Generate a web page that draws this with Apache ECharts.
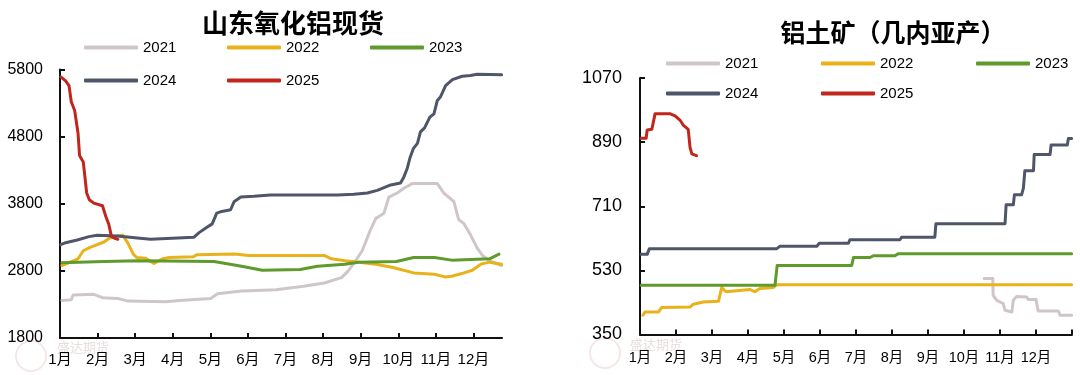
<!DOCTYPE html>
<html><head><meta charset="utf-8">
<script src="https://cdn.jsdelivr.net/npm/echarts@6/dist/echarts.min.js"></script>
<style>html,body{margin:0;padding:0;background:#fff}#c{width:1080px;height:375px}</style>
</head><body><div id="c"></div>
<script>
// ---------- data ----------
const years = ['2021', '2022', '2023', '2024', '2025'];
const yearColors = ['#D0C6CA', '#E9B11A', '#5F9B2C', '#4F5669', '#C1261D'];
const monthLabels = ['1月','2月','3月','4月','5月','6月','7月','8月','9月','10月','11月','12月'];
const leftTitle = '山东氧化铝现货';
const rightTitle = '铝土矿（几内亚产）';
const leftYTicks = [1800, 2800, 3800, 4800, 5800];
const rightYTicks = [350, 530, 710, 890, 1070];

// x = position in months from 1 Jan (0 = 1月, 1 = 2月, ...)
// Left: Shandong alumina spot
const aluX2021 = [0.05,0.30,0.35,0.90,1.13,1.53,1.81,2.82,3.18,4.01,4.19,4.83,5.75,6.48,7.03,7.49,7.67,7.86,8.04,8.26,8.40,8.62,8.75,8.97,9.15,9.37,10.04,10.21,10.48,10.61,10.74,10.92,11.10,11.24,11.43,11.75];
const aluY2021 = [2360,2370,2440,2450,2400,2390,2350,2340,2360,2390,2460,2500,2520,2570,2620,2700,2800,2950,3100,3410,3580,3660,3900,3960,4030,4100,4100,3960,3830,3560,3510,3340,3140,3030,2950,2880];
const aluX2022 = [0.05,0.48,0.62,0.80,1.17,1.35,1.67,1.81,1.95,2.04,2.27,2.50,2.73,2.91,3.55,3.64,4.65,5.02,7.03,7.22,7.58,7.95,8.40,8.86,9.41,9.96,10.24,10.42,10.69,10.97,11.20,11.43,11.75];
const aluY2022 = [2880,2980,3100,3150,3230,3300,3330,3210,3050,3000,2990,2910,2980,3000,3010,3040,3050,3030,3030,2980,2950,2930,2900,2850,2770,2750,2710,2720,2760,2810,2900,2930,2900];
const aluX2023 = [0.05,1.17,2.09,4.10,4.83,5.38,6.39,6.85,7.58,7.94,8.95,9.41,9.96,10.42,11.43,11.68];
const aluY2023 = [2920,2940,2950,2940,2870,2810,2820,2870,2900,2930,2940,3000,3000,2960,2980,3050];
const aluX2024 = [0.02,0.15,0.46,0.77,0.99,1.53,2.06,2.41,3.56,3.70,3.88,4.05,4.17,4.27,4.54,4.63,4.81,5.16,5.60,7.38,7.82,8.18,8.44,8.80,9.06,9.15,9.24,9.31,9.40,9.51,9.59,9.70,9.84,9.95,10.04,10.12,10.26,10.44,10.70,10.92,11.10,11.75];
const aluY2024 = [3190,3220,3260,3310,3330,3320,3290,3270,3300,3370,3440,3500,3660,3680,3710,3830,3900,3910,3930,3930,3940,3960,4000,4080,4110,4200,4330,4480,4620,4700,4870,4930,5090,5140,5340,5390,5560,5650,5700,5710,5730,5720];
const aluX2025 = [0.02,0.15,0.24,0.30,0.39,0.48,0.52,0.62,0.71,0.78,0.90,1.13,1.22,1.30,1.37,1.44,1.54];
const aluY2025 = [5690,5630,5560,5320,5190,4850,4520,4420,3960,3860,3810,3770,3610,3490,3310,3290,3270];

// Right: bauxite (Guinea)
const bxX2021 = [9.56,9.80,9.81,9.91,10.09,10.14,10.33,10.37,10.46,10.74,10.79,11.00,11.06,11.62,11.67,11.99];
const bxY2021 = [507,507,460,446,437,418,413,446,457,455,448,448,416,416,404,404];
const bxX2022 = [0.08,0.14,0.51,0.60,1.39,1.48,1.76,2.18,2.27,2.39,3.06,3.19,3.33,3.70,3.80,11.99];
const bxY2022 = [404,413,413,426,427,435,441,443,482,470,476,470,479,482,490,490];
const bxX2023 = [0.03,3.75,3.81,5.88,5.93,6.39,6.48,7.08,7.18,11.99];
const bxY2023 = [488,488,544,544,566,566,571,571,577,577];
const bxX2024 = [0.03,0.20,0.26,3.80,3.89,4.91,4.98,5.79,5.83,7.22,7.27,8.19,8.22,10.14,10.17,10.37,10.40,10.60,10.65,10.69,10.93,10.95,11.39,11.42,11.87,11.90,11.99];
const bxY2024 = [575,575,591,591,598,598,606,606,616,616,623,623,661,661,714,714,742,742,761,810,810,855,855,882,882,900,900];
const bxX2025 = [0.03,0.17,0.20,0.33,0.42,0.83,0.97,1.11,1.20,1.34,1.39,1.44,1.57];
const bxY2025 = [901,901,924,926,970,970,964,952,938,926,875,857,852];

// ---------- chart ----------
const FONT = "'Liberation Sans', Arial, 'Noto Sans CJK SC', sans-serif";
const CJK = "'Noto Sans CJK SC', sans-serif";
const zip = (xs, ys) => xs.map((x, i) => [x, ys[i]]);
const leftSets = [[aluX2021, aluY2021], [aluX2022, aluY2022], [aluX2023, aluY2023], [aluX2024, aluY2024], [aluX2025, aluY2025]];
const rightSets = [[bxX2021, bxY2021], [bxX2022, bxY2022], [bxX2023, bxY2023], [bxX2024, bxY2024], [bxX2025, bxY2025]];

const series = [];
[leftSets, rightSets].forEach((sets, gi) => {
  sets.forEach((s, i) => {
    series.push({
      name: years[i], type: 'line', xAxisIndex: gi, yAxisIndex: gi,
      data: zip(s[0], s[1]), symbol: 'none', showSymbol: false,
      lineStyle: { width: 3, color: yearColors[i], cap: 'round', join: 'round' },
      itemStyle: { color: yearColors[i] }, z: 2 + i, animation: false
    });
  });
});

function legendAt(name, x, yc) {
  return {
    data: [{ name: name, icon: 'roundRect' }], left: x, top: yc - 7, padding: 0,
    itemWidth: 54, itemHeight: 4,
    selectedMode: false,
    textStyle: { fontSize: 15, color: '#000', fontFamily: FONT, lineHeight: 14 }
  };
}
const legends = [
  legendAt('2021', 84, 47), legendAt('2022', 227, 47), legendAt('2023', 370, 47),
  legendAt('2024', 84, 80), legendAt('2025', 227, 80),
  legendAt('2021', 666, 63), legendAt('2022', 821, 63), legendAt('2023', 976, 63),
  legendAt('2024', 666, 93), legendAt('2025', 821, 93)
];

const axisLineStyle = { color: '#111', width: 2 };
const monthIdx = monthLabels.map((m, i) => i);
function xAxisCfg(gi, max, tickVals, fs, margin) {
  return {
    gridIndex: gi, type: 'value', min: 0, max: max, interval: 1,
    axisLine: { show: true, onZero: false, lineStyle: axisLineStyle },
    axisTick: { show: true, inside: true, length: 5, customValues: tickVals, lineStyle: axisLineStyle },
    axisLabel: { customValues: monthIdx, formatter: v => monthLabels[Math.round(v)] || '',
      fontSize: fs, color: '#000', fontFamily: FONT, margin: margin },
    splitLine: { show: false }
  };
}
function yAxisCfg(gi, ticks, fs, margin) {
  return {
    gridIndex: gi, type: 'value', min: ticks[0], max: ticks[ticks.length - 1],
    interval: ticks[1] - ticks[0],
    axisLine: { show: true, onZero: false, lineStyle: axisLineStyle },
    axisTick: { show: true, inside: true, length: 5, customValues: ticks, lineStyle: axisLineStyle },
    axisLabel: { customValues: ticks, formatter: v => String(v), fontSize: fs, color: '#000', fontFamily: FONT, margin: margin },
    splitLine: { show: false }
  };
}

function watermark(cx, cy, tx, ty) {
  return [
    { type: 'circle', shape: { cx: cx, cy: cy, r: 15 }, style: { fill: 'none', stroke: '#F6E6E6', lineWidth: 2 }, silent: true, z: -1 },
    { type: 'text', x: tx, y: ty, style: { text: '盛达期货', fontSize: 13, fill: '#E8DEDE', fontFamily: CJK, align: 'left', verticalAlign: 'middle' }, silent: true, z: -1 }
  ];
}

const option = {
  backgroundColor: '#fff',
  animation: false,
  grid: [
    { left: 60, top: 69.5, width: 442, height: 268.5 },
    { left: 640, top: 78, width: 432, height: 256.5 }
  ],
  xAxis: [
    xAxisCfg(0, 11.76, monthIdx, 15, 14),
    xAxisCfg(1, 12, monthIdx.concat([12]), 14.5, 16)
  ],
  yAxis: [
    yAxisCfg(0, leftYTicks, 16, 17),
    yAxisCfg(1, rightYTicks, 18, 18)
  ],
  legend: legends,
  graphic: [
    { type: 'text', x: 293, y: 23, style: { text: leftTitle, fontSize: 26, fontWeight: 'bold', fill: '#000', fontFamily: CJK, align: 'center', verticalAlign: 'middle' } },
    { type: 'text', x: 893, y: 32, style: { text: rightTitle, fontSize: 25, fontWeight: 'bold', fill: '#000', fontFamily: CJK, align: 'center', verticalAlign: 'middle' } }
  ].concat(watermark(31, 356, 57, 347), watermark(605, 353, 630, 344)),
  series: series
};
const chart = echarts.init(document.getElementById('c'), null, { renderer: 'canvas' });
chart.setOption(option);
</script>
</body></html>
